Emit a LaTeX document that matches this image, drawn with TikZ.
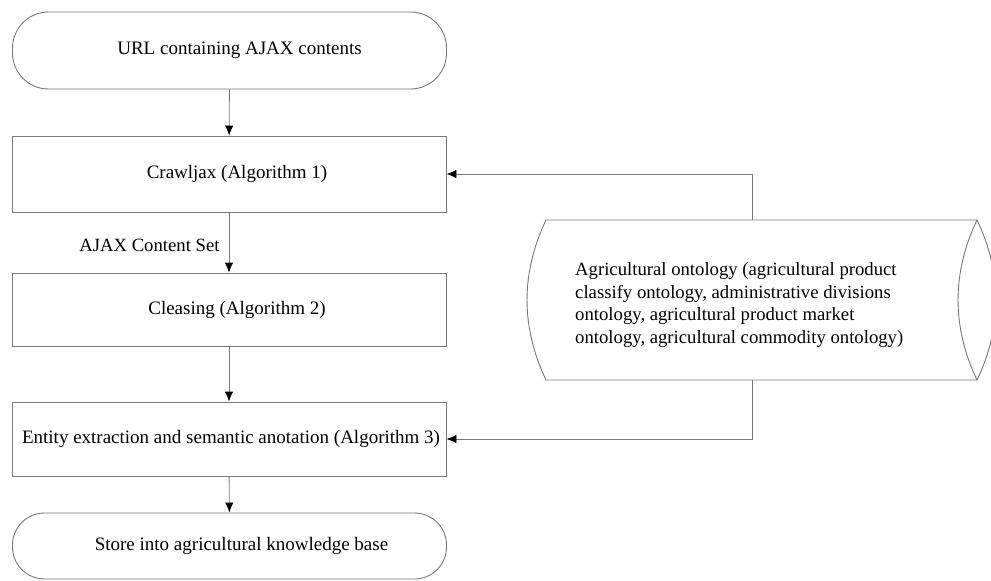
\documentclass[tikz,border=0pt]{standalone}
\usepackage{fontspec}
\setmainfont{Liberation Serif}
\usetikzlibrary{arrows.meta}
\definecolor{lineg}{RGB}{120,120,120}
\tikzset{
  boxbase/.style={draw=lineg, line width=0.9pt, minimum width=434pt, inner sep=0pt, align=center, font=\fontsize{19}{22.5}\selectfont},
  procbox/.style={boxbase, rectangle},
  termbox/.style={boxbase, rectangle, rounded corners=36pt},
  flow/.style={draw=lineg, line width=0.9pt, -{Latex[length=10pt,width=8.5pt,color=black]}},
  lbl/.style={inner sep=0pt, font=\fontsize{18.7}{22.5}\selectfont}
}
\newcommand{\txtoffset}[1]{\hspace*{#1pt}}
\begin{document}
\begin{tikzpicture}[x=1pt,y=-1pt]
\useasboundingbox (0,0) rectangle (991,581);
% main column
\node[termbox, minimum height=77pt] (url) at (229.5,50.5) {\txtoffset{20}URL containing AJAX contents};
\node[procbox, minimum height=76pt] (crawl) at (229,174) {\txtoffset{16}Crawljax (Algorithm 1)};
\node[procbox, minimum height=73pt] (clean) at (229,309.5) {\txtoffset{16}Cleasing (Algorithm 2)};
\node[procbox, minimum height=74pt] (entity) at (229,439) {\txtoffset{4}Entity extraction and semantic anotation (Algorithm 3)};
\node[termbox, minimum height=66pt, rounded corners=32pt] (store) at (229.5,546) {\txtoffset{24}Store into agricultural knowledge base};
% ontology store shape
\draw[draw=lineg, line width=0.9pt]
  (546,220) -- (977,220)
  .. controls (951.7,273) and (951.7,327) .. (977,380)
  -- (546,380)
  .. controls (520.7,327) and (520.7,273) .. (546,220) -- cycle;
\draw[draw=lineg, line width=0.9pt]
  (977,220) .. controls (1002.3,273) and (1002.3,327) .. (977,380);
\node[lbl, anchor=west, align=left] (onto) at (575,305) {Agricultural ontology (agricultural product\\classify ontology, administrative divisions\\ontology, agricultural product market\\ontology, agricultural commodity ontology)};
\coordinate (otop) at (752,220);
\coordinate (obot) at (752,380);
% connectors
\draw[flow] (url) -- (crawl);
\draw[flow] (crawl) -- node[lbl, anchor=east, xshift=-9pt, pos=0.55] (setlbl) {AJAX Content Set} (clean);
\draw[flow] (clean) -- (entity);
\draw[flow] (entity) -- (store);
\draw[flow] (otop) |- (crawl.east);
\draw[flow] (obot) |- (entity.east);
\end{tikzpicture}
\end{document}
